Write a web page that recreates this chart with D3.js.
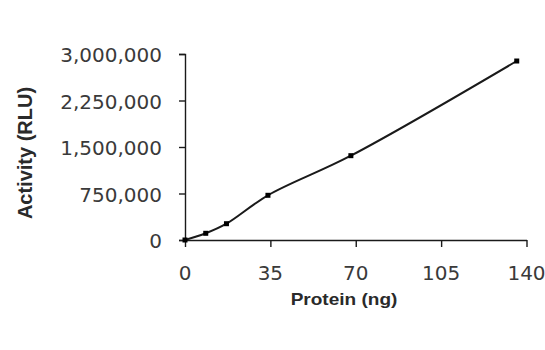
<!DOCTYPE html>
<html>
<head>
<meta charset="utf-8">
<script src="https://cdn.jsdelivr.net/npm/d3@7"></script>
<style>
  html, body { margin: 0; padding: 0; background: #fff; }
  svg { display: block; }
</style>
</head>
<body>
<script>
// Luciferase activity versus amount of protein
const proteinNg = [0, 8.5, 17, 34, 68, 136];
const activityRlu = [0, 108000, 263000, 721000, 1360000, 2887000];
const xTicks = [0, 35, 70, 105, 140];
const yTicks = [0, 750000, 1500000, 2250000, 3000000];

const W = 545, H = 350;
const svg = d3.select("body").append("svg").attr("width", W).attr("height", H);

const x = d3.scaleLinear().domain([0, 140]).range([185, 526.5]);
const y = d3.scaleLinear().domain([0, 3000000]).range([240, 54]);

const axisColor = "#1a1a1a";
const textColor = "#3a3a3a";
const fmt = d3.format(",");

// y axis
const gy = svg.append("g").attr("transform", `translate(${x(0)},0)`)
  .call(d3.axisLeft(y).tickValues(yTicks).tickSize(6).tickFormat(""));
gy.select(".domain").attr("stroke", axisColor).attr("stroke-width", 1.4);
gy.selectAll(".tick line").attr("stroke", axisColor).attr("stroke-width", 1.4);

// x axis
const gx = svg.append("g").attr("transform", `translate(0,${y(0)})`)
  .call(d3.axisBottom(x).tickValues(xTicks).tickSize(7).tickFormat("").tickSizeOuter(0));
gx.select(".domain").attr("stroke", axisColor).attr("stroke-width", 1.4);
gx.selectAll(".tick line").attr("stroke", axisColor).attr("stroke-width", 1.4);

// tick labels
svg.append("g").selectAll("text").data(yTicks).join("text")
  .attr("x", 162)
  .attr("y", d => y(d) + 8)
  .attr("text-anchor", "end")
  .attr("font-family", "DejaVu Sans, Verdana, sans-serif")
  .attr("font-size", 20)
  .attr("fill", textColor)
  .text(d => fmt(d));

svg.append("g").selectAll("text").data(xTicks).join("text")
  .attr("x", d => x(d))
  .attr("y", 280)
  .attr("text-anchor", "middle")
  .attr("font-family", "DejaVu Sans, Verdana, sans-serif")
  .attr("font-size", 20)
  .attr("fill", textColor)
  .text(d => d);

// axis titles
svg.append("g").attr("transform", "translate(344,305) scale(1.12,1)")
  .append("text")
  .attr("text-anchor", "middle")
  .attr("font-family", "Liberation Sans, Arial, sans-serif")
  .attr("font-weight", "bold")
  .attr("font-size", 17)
  .attr("fill", "#2a2a2a")
  .text("Protein (ng)");

svg.append("text")
  .attr("transform", "translate(32,153) rotate(-90)")
  .attr("text-anchor", "middle")
  .attr("font-family", "Liberation Sans, Arial, sans-serif")
  .attr("font-weight", "bold")
  .attr("font-size", 20)
  .attr("fill", "#2a2a2a")
  .text("Activity (RLU)");

// smoothed line
const pts = proteinNg.map((p, i) => [p, activityRlu[i]]);
svg.append("path")
  .datum(pts)
  .attr("fill", "none")
  .attr("stroke", "#1a1a1a")
  .attr("stroke-width", 2)
  .attr("d", d3.line().x(d => x(d[0])).y(d => y(d[1])).curve(d3.curveCatmullRom.alpha(0.5)));

// markers
svg.append("g").selectAll("rect").data(pts).join("rect")
  .attr("x", d => x(d[0]) - 2.5)
  .attr("y", d => y(d[1]) - 2.5)
  .attr("width", 5).attr("height", 5)
  .attr("fill", "#000");
</script>
</body>
</html>
